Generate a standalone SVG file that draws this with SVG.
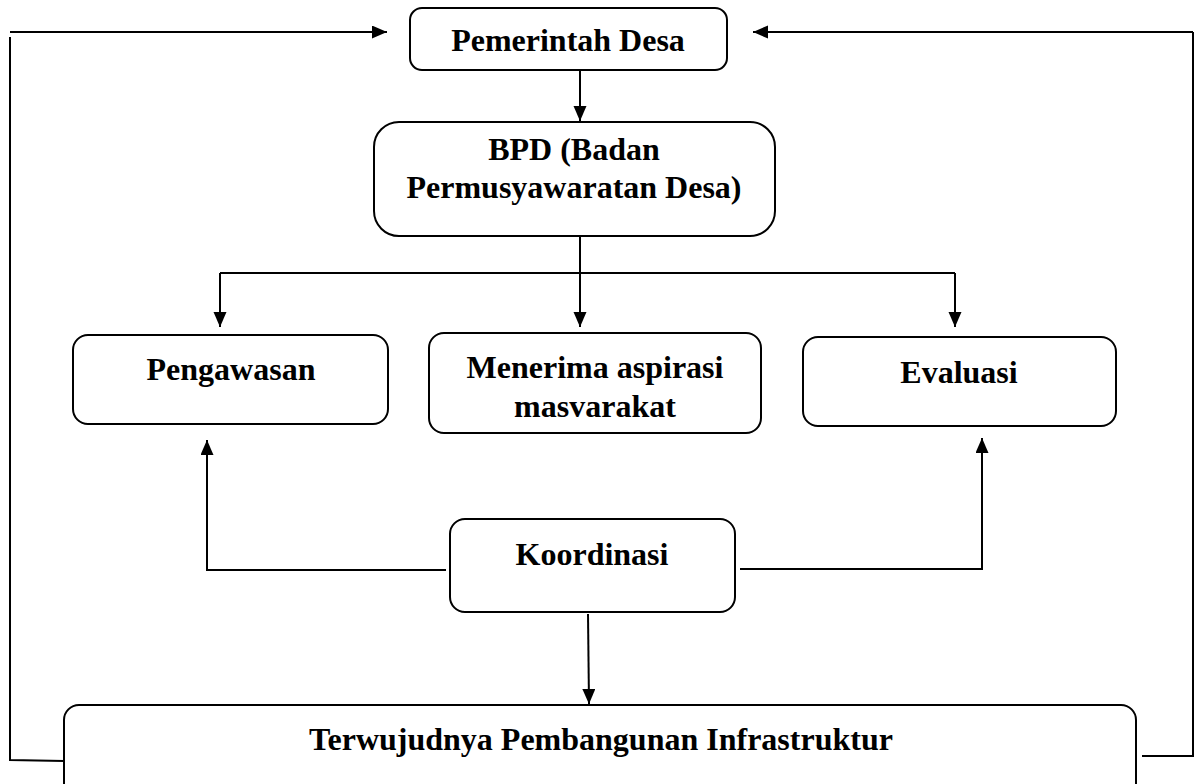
<svg xmlns="http://www.w3.org/2000/svg" width="1197" height="784" viewBox="0 0 1197 784">
<style>
.box{fill:#fff;stroke:#000;stroke-width:2}
.t{font-family:"Liberation Serif","Times New Roman",serif;font-weight:bold;font-size:32px;fill:#000;text-anchor:middle}
.c{fill:none;stroke:#000;stroke-width:2}
.a{marker-end:url(#ah)}
</style>
<defs>
<marker id="ah" markerUnits="userSpaceOnUse" markerWidth="16" markerHeight="14" refX="15" refY="6.5" orient="auto">
<path d="M0,0 L15,6.5 L0,13 z" fill="#000"/>
</marker>
</defs>
<rect width="1197" height="784" fill="#fff"/>
<g id="connectors">
<path class="c a" d="M10,32 L387,32"/>
<path class="c" d="M10,37 L10,760 L64,761"/>
<path class="c a" d="M1193,32 L753,32"/>
<path class="c" d="M1193,32 L1193,756 L1142,756"/>
<path class="c a" d="M580,70 L580,121"/>
<path class="c" d="M580,236 L580,273"/>
<path class="c" d="M220,273 L955,273"/>
<path class="c a" d="M220,273 L220,327"/>
<path class="c a" d="M580,273 L580,327"/>
<path class="c a" d="M955,273 L955,327"/>
<path class="c a" d="M446,570 L207,570 L207,440"/>
<path class="c a" d="M740,569 L982,569 L982,438"/>
<path class="c a" d="M588,614 L589,704"/>
</g>
<g id="pemerintah">
<rect class="box" x="410" y="8" width="317" height="62" rx="12"/>
<text class="t" x="568" y="51">Pemerintah Desa</text>
</g>
<g id="bpd">
<rect class="box" x="374" y="122" width="401" height="114" rx="25"/>
<text class="t" x="574" y="160">BPD (Badan</text>
<text class="t" x="574" y="198">Permusyawaratan Desa)</text>
</g>
<g id="pengawasan">
<rect class="box" x="73" y="335" width="315" height="89" rx="15"/>
<text class="t" x="231" y="380">Pengawasan</text>
</g>
<g id="menerima">
<rect class="box" x="429" y="333" width="332" height="100" rx="15"/>
<text class="t" x="595" y="378">Menerima aspirasi</text>
<text class="t" x="595" y="417">masvarakat</text>
</g>
<g id="evaluasi">
<rect class="box" x="803" y="337" width="313" height="89" rx="15"/>
<text class="t" x="959" y="383">Evaluasi</text>
</g>
<g id="koordinasi">
<rect class="box" x="450" y="519" width="285" height="93" rx="15"/>
<text class="t" x="592" y="565">Koordinasi</text>
</g>
<g id="terwujudnya">
<rect class="box" x="64" y="705" width="1072" height="100" rx="15"/>
<text class="t" x="601" y="750">Terwujudnya Pembangunan Infrastruktur</text>
</g>
</svg>
